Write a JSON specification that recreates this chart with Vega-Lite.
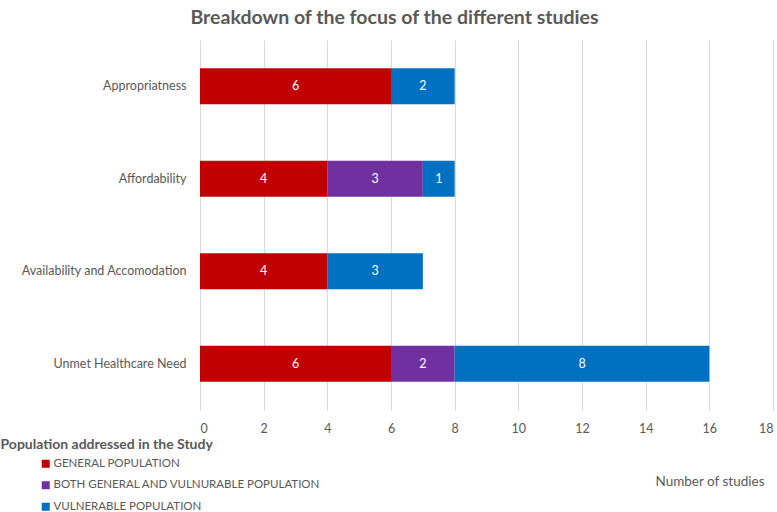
{
  "$schema": "https://vega.github.io/schema/vega-lite/v6.json",
  "autosize": {"type": "none"},
  "width": 573,
  "height": 370,
  "padding": {"left": 200, "top": 40, "right": 4, "bottom": 102},
  "background": "white",
  "config": {"font": "Lato", "view": {"stroke": null}},
  "title": {
    "text": "Breakdown of the focus of the different studies",
    "anchor": "middle",
    "dx": -92,
    "offset": 12,
    "fontSize": 19.5,
    "fontWeight": "bold",
    "color": "#595959",
    "font": "Lato"
  },
  "data": {
    "values": [
      {"focus": "Appropriatness", "population": "GENERAL POPULATION", "rank": 1, "count": 6},
      {"focus": "Appropriatness", "population": "VULNERABLE POPULATION", "rank": 3, "count": 2},
      {"focus": "Affordability", "population": "GENERAL POPULATION", "rank": 1, "count": 4},
      {"focus": "Affordability", "population": "BOTH GENERAL AND VULNURABLE POPULATION", "rank": 2, "count": 3},
      {"focus": "Affordability", "population": "VULNERABLE POPULATION", "rank": 3, "count": 1},
      {"focus": "Availability and Accomodation", "population": "GENERAL POPULATION", "rank": 1, "count": 4},
      {"focus": "Availability and Accomodation", "population": "VULNERABLE POPULATION", "rank": 3, "count": 3},
      {"focus": "Unmet Healthcare Need", "population": "GENERAL POPULATION", "rank": 1, "count": 6},
      {"focus": "Unmet Healthcare Need", "population": "BOTH GENERAL AND VULNURABLE POPULATION", "rank": 2, "count": 2},
      {"focus": "Unmet Healthcare Need", "population": "VULNERABLE POPULATION", "rank": 3, "count": 8}
    ]
  },
  "encoding": {
    "y": {
      "field": "focus",
      "type": "nominal",
      "sort": ["Appropriatness", "Affordability", "Availability and Accomodation", "Unmet Healthcare Need"],
      "scale": {"paddingInner": 0.61, "paddingOuter": 0.305},
      "axis": {
        "title": "Population addressed in the Study",
        "titleAngle": 0,
        "titleX": -200,
        "titleY": 404,
        "titleAlign": "left",
        "titleBaseline": "middle",
        "titleFontSize": 14,
        "titleFontWeight": "bold",
        "titleColor": "#595959",
        "domain": false,
        "ticks": false,
        "labelPadding": 14,
        "labelFontSize": 12.5,
        "labelColor": "#595959"
      }
    },
    "x": {
      "field": "count",
      "type": "quantitative",
      "stack": "zero",
      "scale": {"domain": [0, 18], "nice": false},
      "axis": {
        "values": [0, 2, 4, 6, 8, 10, 12, 14, 16, 18],
        "title": "Number of studies",
        "titleX": 564,
        "titleY": 71,
        "titleAlign": "right",
        "titleAnchor": null,
        "titleBaseline": "middle",
        "titleFontSize": 13.5,
        "titleFontWeight": "normal",
        "titleColor": "#595959",
        "domain": false,
        "ticks": false,
        "labelPadding": 12,
        "labelFontSize": 12.5,
        "labelColor": "#595959",
        "gridColor": "#d9d9d9",
        "grid": true
      }
    },
    "order": {"field": "rank", "type": "quantitative"}
  },
  "layer": [
    {
      "mark": {"type": "bar"},
      "encoding": {
        "color": {
          "field": "population",
          "type": "nominal",
          "scale": {
            "domain": ["GENERAL POPULATION", "BOTH GENERAL AND VULNURABLE POPULATION", "VULNERABLE POPULATION"],
            "range": ["#C00000", "#7030A0", "#0070C0"]
          },
          "legend": {
            "title": null,
            "orient": "none",
            "legendX": -160,
            "legendY": 418,
            "symbolType": "square",
            "symbolSize": 64,
            "symbolStrokeWidth": 0,
            "labelFontSize": 11.5,
            "labelColor": "#595959",
            "labelOffset": 2,
            "labelLimit": 0,
            "rowPadding": 8.5
          }
        }
      }
    },
    {
      "mark": {"type": "text", "color": "white", "fontSize": 12.5, "baseline": "middle", "align": "center"},
      "encoding": {
        "x": {"field": "count", "type": "quantitative", "stack": "zero", "bandPosition": 0.5},
        "text": {"field": "count", "type": "quantitative"}
      }
    }
  ]
}
